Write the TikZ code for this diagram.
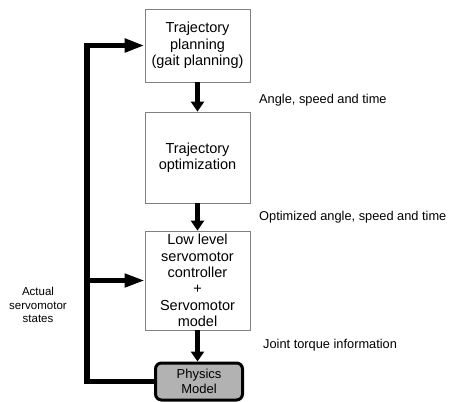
\documentclass[tikz,border=0pt]{standalone}
\usepackage{fontspec}
\setmainfont{Liberation Sans}
\usetikzlibrary{arrows.meta}

\begin{document}
\begin{tikzpicture}[x=1bp, y=-1bp,
    stage/.style={draw=black!50, line width=0.8bp, align=center, minimum width=105bp,
      inner sep=0pt, font=\fontsize{14.5bp}{16.3bp}\selectfont},
    flow/.style={line width=5.5bp, -{Triangle[length=10bp,width=13bp]}},
    feed/.style={line width=5.5bp, line join=miter, -{Triangle[length=20bp,width=13bp]}},
    note/.style={anchor=west, inner sep=0pt, font=\fontsize{12.8bp}{16bp}\selectfont}]
    \useasboundingbox (0,0) rectangle (449,401);
    \node[stage, minimum height=73bp] (plan) at (197.5,45.5)
      {Trajectory\\planning\\(gait planning)};
    \node[stage, minimum height=91bp] (optim) at (197.5,157.5)
      {Trajectory\\optimization};
    \node[stage, minimum height=99bp] (lowctl) at (197.5,280.5)
      {Low level\\servomotor\\controller\\+\\Servomotor\\model};
    \node[stage, draw=black, fill=black!30, line width=3bp, rounded corners=6bp,
      minimum width=87bp, minimum height=37bp,
      font=\fontsize{13bp}{15bp}\selectfont] (phys) at (199,381.5)
      {Physics\\Model};

    \node[note] (lab1) at (259,100) {Angle, speed and time};
    \node[note] (lab2) at (259,217) {Optimized angle, speed and time};
    \node[note] (lab3) at (263,345) {Joint torque information};
    \node[note, anchor=center, align=center, font=\fontsize{11.5bp}{13.5bp}\selectfont]
      (lab4) at (38,305) {Actual\\servomotor\\states};

    \draw[flow] (plan) -- (optim);
    \draw[flow] (optim) -- (lowctl);
    \draw[flow] (lowctl.south) -- (lowctl.south |- phys.north);

    % feedback loop
    \coordinate (fb) at (87,45.5);
    \draw[feed] (phys.west) -| (fb) -- (plan.west);
    \draw[feed, line width=4.5bp] (fb |- lowctl.west) -- (lowctl.west);
  \end{tikzpicture}
\end{document}
